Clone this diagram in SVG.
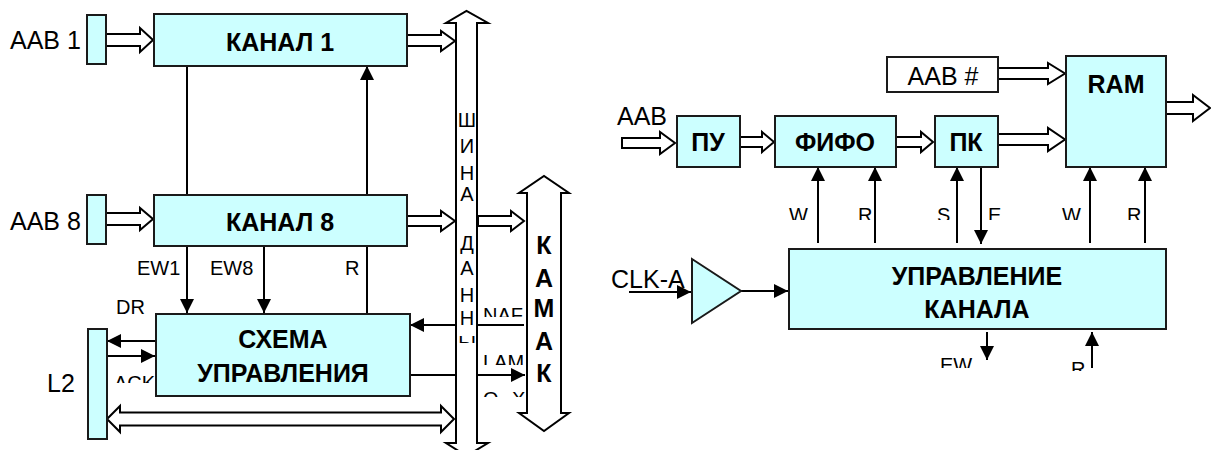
<svg xmlns="http://www.w3.org/2000/svg" width="1211" height="450" viewBox="0 0 1211 450">
<style>
.box{fill:#ccffff;stroke:#1a1a1a;stroke-width:2}
.wb{fill:#ffffff;stroke:#1a1a1a;stroke-width:2}
.ha{fill:#ffffff;stroke:#000;stroke-width:2;stroke-linejoin:miter}
.ln{stroke:#000;stroke-width:2;fill:none}
.ar{stroke:#000;stroke-width:2;fill:none;marker-end:url(#ah)}
.t{font-family:"Liberation Sans",Arial,sans-serif;fill:#000}
.big{font-size:25px}
.sm{font-size:20px}
.b{font-size:25px;font-weight:bold;text-anchor:middle}
.bus{font-size:20px;text-anchor:middle}
</style>
<defs>
<marker id="ah" markerUnits="userSpaceOnUse" markerWidth="14" markerHeight="14" refX="14" refY="7" orient="auto">
<path d="M0,0 L14,7 L0,14 z" fill="#000"/>
</marker>
<clipPath id="cTop"><rect x="700" y="190" width="500" height="30"/></clipPath>
<clipPath id="cEW"><rect x="930" y="340" width="60" height="28"/></clipPath>
<clipPath id="cRb"><rect x="1060" y="340" width="30" height="31"/></clipPath>
<clipPath id="cACK"><rect x="108" y="360" width="48" height="23"/></clipPath>
<clipPath id="cNAF"><rect x="480" y="300" width="45" height="17"/></clipPath>
<clipPath id="cLAM"><rect x="480" y="345" width="45" height="20"/></clipPath>
<clipPath id="cQX"><rect x="480" y="380" width="45" height="17"/></clipPath>
<clipPath id="cBus"><rect x="456" y="100" width="22" height="243"/></clipPath>
</defs>

<!-- connectors -->
<g id="connectors">
<line class="ln" x1="187" y1="66" x2="187" y2="195"/>
<line class="ar" x1="367" y1="195" x2="367" y2="66"/>
<line class="ar" x1="187" y1="246" x2="187" y2="313"/>
<line class="ar" x1="264" y1="246" x2="264" y2="313"/>
<line class="ln" x1="367" y1="246" x2="367" y2="314"/>
<line class="ar" x1="156" y1="341" x2="107" y2="341"/>
<line class="ar" x1="106" y1="356" x2="155" y2="356"/>
<line class="ar" x1="524" y1="325" x2="410" y2="325"/>
<line class="ar" x1="410" y1="375" x2="525" y2="375"/>
<line class="ar" x1="629" y1="292" x2="691" y2="292"/>
<line class="ar" x1="741" y1="291" x2="788" y2="291"/>
<line class="ar" x1="818" y1="243" x2="818" y2="167"/>
<line class="ar" x1="875" y1="243" x2="875" y2="167"/>
<line class="ar" x1="957" y1="243" x2="957" y2="167"/>
<line class="ar" x1="981" y1="167" x2="981" y2="244"/>
<line class="ar" x1="1090" y1="243" x2="1090" y2="167"/>
<line class="ar" x1="1145" y1="243" x2="1145" y2="167"/>
<line class="ar" x1="987" y1="332" x2="987" y2="360"/>
<line class="ar" x1="1092" y1="368" x2="1092" y2="332"/>
<!-- hollow bus arrows -->
<polygon class="ha" points="106,34 140,34 140,28 153,40 140,52 140,46 106,46"/>
<polygon class="ha" points="106,213 140,213 140,208 153,219 140,230 140,225 106,225"/>
<polygon class="ha" points="407,35 441,35 441,31 455,41 441,51 441,46 407,46"/>
<polygon class="ha" points="407,216 441,216 441,211 455,221 441,231 441,226 407,226"/>
<polygon class="ha" points="478,216 511,216 511,211 524,221 511,231 511,226 478,226"/>
<polygon class="ha" points="107,419 120,406 120,412.5 441,412.5 441,406 454,419 441,432 441,425.5 120,425.5 120,432"/>
<polygon class="ha" points="622,138 660,138 660,132 675,143 660,154 660,148 622,148"/>
<polygon class="ha" points="740,137 762,137 762,132 774,142 762,152 762,147 740,147"/>
<polygon class="ha" points="896,137 921,137 921,132 933,142 921,152 921,147 896,147"/>
<polygon class="ha" points="998,68 1048,68 1048,63 1065,73.5 1048,84 1048,79 998,79"/>
<polygon class="ha" points="998,134 1048,134 1048,128 1065,139.5 1048,151 1048,145 998,145"/>
<polygon class="ha" points="1166,102 1193,102 1193,95 1210,108 1193,121 1193,114 1166,114"/>
</g>

<!-- data bus -->
<g id="bus">
<polygon class="ha" points="456,23 446,23 466.5,11 488,23 477,23 477,443 488,443 466.5,456 446,443 456,443"/>
<text class="t bus" clip-path="url(#cBus)"><tspan x="467" y="127">Ш</tspan><tspan x="467" y="153">И</tspan><tspan x="467" y="180">Н</tspan><tspan x="467" y="201">А</tspan><tspan x="467" y="250">Д</tspan><tspan x="467" y="275">А</tspan><tspan x="467" y="302">Н</tspan><tspan x="467" y="325">Н</tspan><tspan x="467" y="350">Ы</tspan></text>
</g>

<!-- CAMAC -->
<g id="kamak">
<polygon class="ha" points="527,193 519,193 544,176 569,193 561,193 561,413 569,413 544,431 519,413 527,413"/>
<text class="t b"><tspan x="544" y="254">К</tspan><tspan x="544" y="287">А</tspan><tspan x="544" y="317">М</tspan><tspan x="544" y="350">А</tspan><tspan x="544" y="382">К</tspan></text>
</g>

<g id="aab1">
<rect class="box" x="87" y="15" width="19" height="49"/>
<text class="t big" x="10" y="49">AAB 1</text>
</g>
<g id="aab8">
<rect class="box" x="87" y="195" width="19" height="49"/>
<text class="t big" x="10" y="230">AAB 8</text>
</g>
<g id="kanal1">
<rect class="box" x="154" y="14" width="253" height="52"/>
<text class="t b" x="280" y="51">КАНАЛ 1</text>
</g>
<g id="kanal8">
<rect class="box" x="154" y="195" width="253" height="51"/>
<text class="t b" x="280" y="231">КАНАЛ 8</text>
</g>
<g id="skhema">
<rect class="box" x="156" y="314" width="254" height="82"/>
<text class="t b" x="283" y="348">СХЕМА</text>
<text class="t b" x="283" y="382">УПРАВЛЕНИЯ</text>
</g>
<g id="l2">
<rect class="box" x="88" y="329" width="19" height="110"/>
<text class="t big" x="47" y="392">L2</text>
</g>

<g id="left-labels">
<text class="t sm" x="137" y="275">EW1</text>
<text class="t sm" x="210" y="275">EW8</text>
<text class="t sm" x="345" y="275">R</text>
<text class="t sm" x="116" y="314">DR</text>
<text class="t sm" x="114" y="390" clip-path="url(#cACK)">ACK</text>
<text class="t sm" x="483" y="322" clip-path="url(#cNAF)">NAF</text>
<text class="t sm" x="483" y="369" clip-path="url(#cLAM)">LAM</text>
<text class="t sm" x="483" y="406" word-spacing="8" clip-path="url(#cQX)">Q X</text>
</g>

<!-- right diagram -->
<g id="aab-in">
<text class="t big" x="617" y="125">AAB</text>
</g>
<g id="pu">
<rect class="box" x="677" y="116" width="63" height="51"/>
<text class="t b" x="708" y="151">ПУ</text>
</g>
<g id="fifo">
<rect class="box" x="775" y="116" width="121" height="51"/>
<text class="t b" x="835" y="151">ФИФО</text>
</g>
<g id="pk">
<rect class="box" x="935" y="116" width="63" height="51"/>
<text class="t b" x="966" y="151">ПК</text>
</g>
<g id="aabn">
<rect class="wb" x="887" y="57" width="111" height="35"/>
<text class="t big" x="943" y="85" text-anchor="middle">AAB #</text>
</g>
<g id="ram">
<rect class="box" x="1066" y="56" width="100" height="111"/>
<text class="t b" x="1116" y="93">RAM</text>
</g>
<g id="buffer">
<polygon class="box" points="692,259 692,323 741,291"/>
<text class="t big" x="611" y="288">CLK-A</text>
</g>
<g id="upr">
<rect class="box" x="789" y="249" width="377" height="80"/>
<text class="t b" x="977" y="285">УПРАВЛЕНИЕ</text>
<text class="t b" x="977" y="318">КАНАЛА</text>
</g>
<g id="right-labels">
<g clip-path="url(#cTop)">
<text class="t sm" x="789" y="222">W</text>
<text class="t sm" x="858" y="222">R</text>
<text class="t sm" x="937" y="222">S</text>
<text class="t sm" x="988" y="222">E</text>
<text class="t sm" x="1062" y="222">W</text>
<text class="t sm" x="1127" y="222">R</text>
</g>
<text class="t sm" x="940" y="372" clip-path="url(#cEW)">EW</text>
<text class="t sm" x="1071" y="376" clip-path="url(#cRb)">R</text>
</g>
</svg>
